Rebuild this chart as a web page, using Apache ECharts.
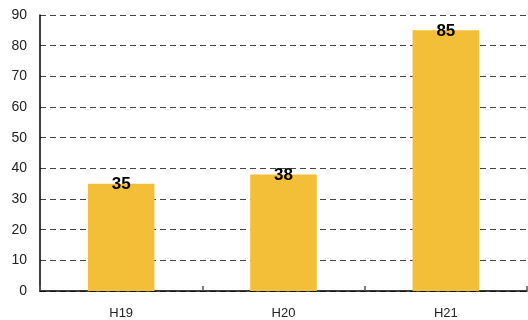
<!DOCTYPE html>
<html>
<head>
<meta charset="utf-8">
<script src="https://cdn.jsdelivr.net/npm/echarts@6/dist/echarts.min.js"></script>
<style>
  html, body { margin: 0; padding: 0; background: #fff; }
  #chart { width: 528px; height: 320px; }
</style>
</head>
<body>
<div id="chart"></div>
<script>
// Fiscal years and their values
const categories = ['H19', 'H20', 'H21'];
const values = [35, 38, 85];
const yMin = 0;
const yMax = 90;
const yStep = 10;

const chart = echarts.init(document.getElementById('chart'), null, { renderer: 'canvas' });

chart.setOption({
  animation: false,
  backgroundColor: '#ffffff',
  grid: { left: 40, right: 1, top: 15, bottom: 29, containLabel: false },
  xAxis: {
    type: 'category',
    data: categories,
    axisLine: { lineStyle: { color: '#000', width: 1.5 } },
    axisTick: { show: true, inside: true, length: 5, lineStyle: { color: '#555', width: 1.5 } },
    axisLabel: { color: '#222', fontSize: 13, fontFamily: 'Liberation Sans, Arial, sans-serif', margin: 16 },
    splitLine: { show: false }
  },
  yAxis: {
    type: 'value',
    min: yMin,
    max: yMax,
    interval: yStep,
    axisLine: { show: true, lineStyle: { color: '#000', width: 1.5 } },
    axisTick: { show: false },
    axisLabel: { color: '#222', fontSize: 14, fontFamily: 'Liberation Sans, Arial, sans-serif', margin: 13 },
    splitLine: { show: true, lineStyle: { color: '#444', type: [6, 4], width: 1 } }
  },
  series: [{
    type: 'bar',
    data: values,
    barWidth: '41%',
    itemStyle: { color: '#F3BE38' },
    label: {
      show: true,
      position: 'top',
      distance: -9,
      color: '#000',
      fontSize: 17,
      fontWeight: 'bold',
      fontFamily: 'Liberation Sans Narrow, Liberation Sans, Arial, sans-serif'
    }
  }]
});
</script>
</body>
</html>
